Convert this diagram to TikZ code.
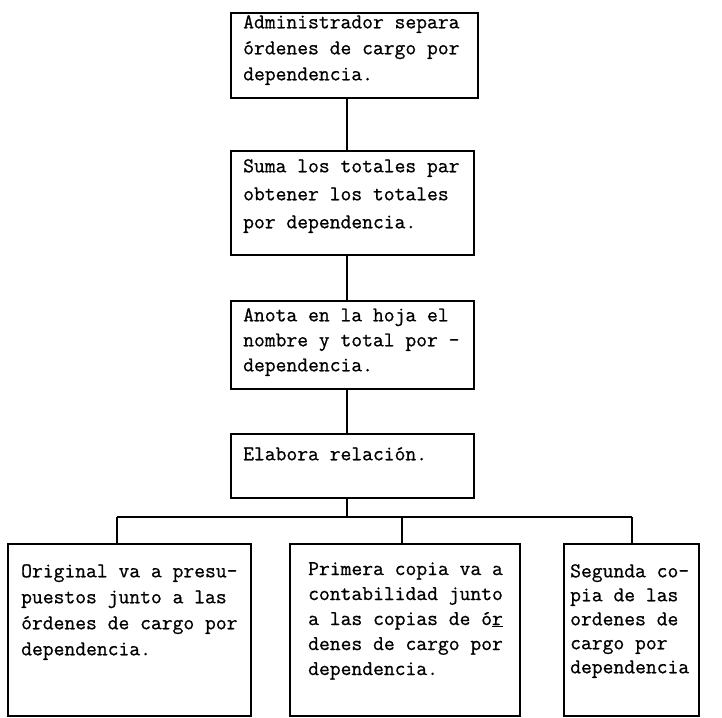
\documentclass[tikz,border=0pt]{standalone}
\usepackage{fontspec}
\newfontfamily\twfont{Latin Modern Mono}[FakeBold=0.8]
\begin{document}
\begin{tikzpicture}[x=1pt,y=-1pt,
  box/.style={draw, line width=2.2pt, rectangle, inner sep=0pt, anchor=north west},
  txt/.style={anchor=north west, inner sep=0pt, align=left, font=\twfont\fontsize{21}{26}\selectfont},
  conn/.style={line width=2.2pt}]
\useasboundingbox (0,0) rectangle (722,717);
% upper boxes
\node[box, minimum width=247pt, minimum height=85pt] (b1) at (230,12) {};
\node[box, minimum width=243pt, minimum height=104pt] (b2) at (230,150) {};
\node[box, minimum width=243pt, minimum height=88pt] (b3) at (230,300) {};
\node[box, minimum width=243pt, minimum height=64pt] (b4) at (230,433) {};
% bottom boxes
\node[box, minimum width=243pt, minimum height=172pt] (l) at (7,543) {};
\node[box, minimum width=230pt, minimum height=172pt] (m) at (289,543) {};
\node[box, minimum width=135pt, minimum height=172pt] (r) at (563,543) {};
% texts
\node[txt] (t1) at (243,15) {Administrador separa\\órdenes de cargo por\\dependencia.};
\node[txt, font=\twfont\fontsize{21}{28}\selectfont] (t2) at (243,159) {Suma los totales par\\obtener los totales\\por dependencia.};
\node[txt, font=\twfont\fontsize{21}{25}\selectfont] (t3) at (243,308) {Anota en la hoja el\\nombre y total por -\\dependencia.};
\node[txt] (t4) at (243,447) {Elabora relación.};
\node[txt] (tl) at (21,564) {Original va a presu-\\puestos junto a las\\órdenes de cargo por\\dependencia.};
\node[txt, font=\twfont\fontsize{21}{25}\selectfont] (tm) at (308,562) {Primera copia va a\\contabilidad junto\\a las copias de ó\underline{r}\\denes de cargo por\\dependencia.};
\node[txt, font=\twfont\fontsize{21}{24}\selectfont] (tr) at (570,564) {Segunda co-\\pia de las\\ordenes de\\cargo por\\dependencia};
% connectors
\coordinate (busc) at (347,517);
\coordinate (busl) at (117,517);
\coordinate (busm) at (402,517);
\coordinate (busr) at (632,517);
\draw[conn] (b1.south -| busc) -- (b2.north -| busc);
\draw[conn] (b2.south -| busc) -- (b3.north -| busc);
\draw[conn] (b3.south -| busc) -- (b4.north -| busc);
\draw[conn] (b4.south -| busc) -- (busc);
\draw[conn] (busl) -- (busr);
\draw[conn] (busl) -- (l.north -| busl);
\draw[conn] (busm) -- (m.north -| busm);
\draw[conn] (busr) -- (r.north -| busr);
\end{tikzpicture}
\end{document}
